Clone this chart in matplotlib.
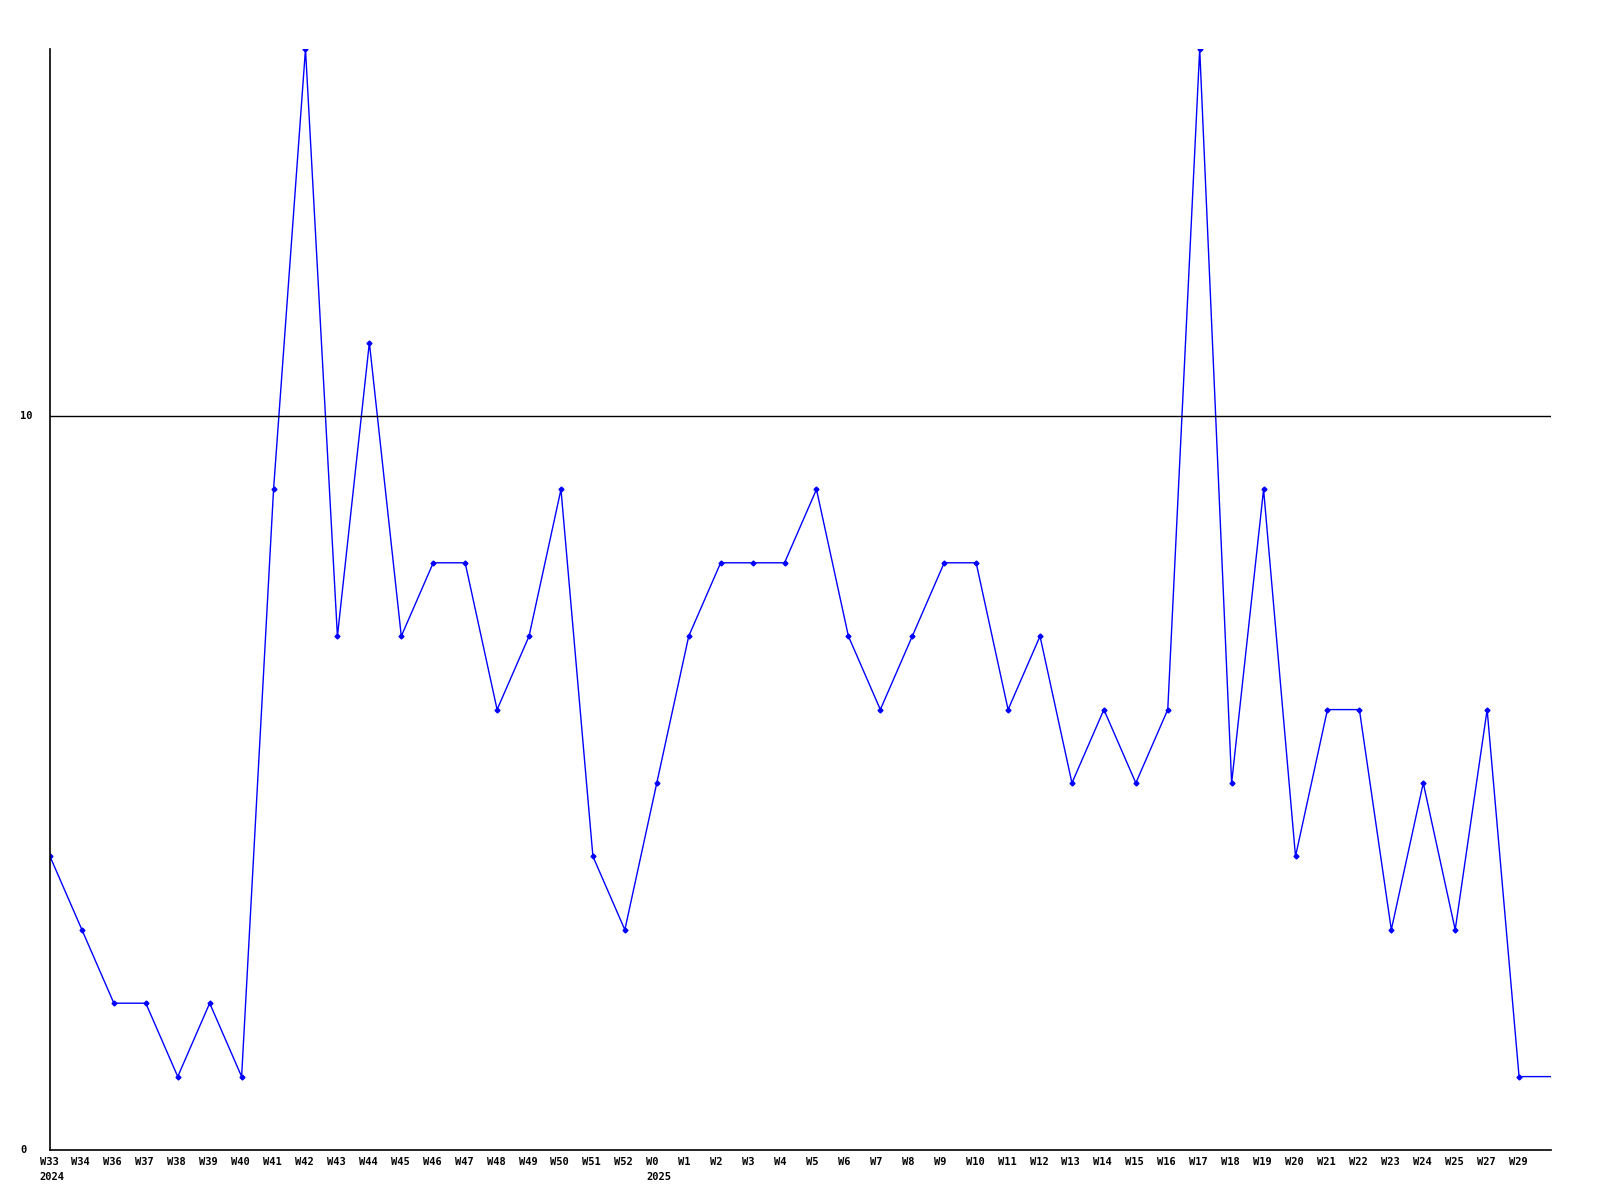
import matplotlib
matplotlib.use("Agg")
import matplotlib.pyplot as plt
import matplotlib.transforms as mtransforms

# Weekly counts
weeks = ["W33", "W34", "W36", "W37", "W38", "W39", "W40", "W41", "W42", "W43",
         "W44", "W45", "W46", "W47", "W48", "W49", "W50", "W51", "W52", "W0",
         "W1", "W2", "W3", "W4", "W5", "W6", "W7", "W8", "W9", "W10",
         "W11", "W12", "W13", "W14", "W15", "W16", "W17", "W18", "W19", "W20",
         "W21", "W22", "W23", "W24", "W25", "W27", "W29"]
counts = [4, 3, 2, 2, 1, 2, 1, 9, 15, 7,
          11, 7, 8, 8, 6, 7, 9, 4, 3, 5,
          7, 8, 8, 8, 9, 7, 6, 7, 8, 8,
          6, 7, 5, 6, 5, 6, 15, 5, 9, 4,
          6, 6, 3, 5, 3, 6, 1]
years = {"W33": "2024", "W0": "2025"}
yticks = [0, 10]

FONT = "DejaVu Sans Mono"

fig = plt.figure(figsize=(16, 12), dpi=100)
ax = fig.add_axes([50/1600, 50/1200, 1501/1600, 1101/1200])

x = list(range(len(counts)))
# line runs on to the right edge at the last value
ax.plot(x + [len(counts)], counts + [counts[-1]], color="#0000ff", lw=1)
ax.plot(x, counts, ls="none", marker="D", ms=2.5, color="#0000ff")

ax.set_xlim(0, len(counts))
ax.set_ylim(0, max(counts))
ax.axhline(10, color="black", lw=1)

for s in ["top", "right"]:
  ax.spines[s].set_visible(False)
for s in ["left", "bottom"]:
  ax.spines[s].set_linewidth(1.2)
ax.set_xticks([])
ax.set_yticks([])

# x labels, left-aligned a little before each point
off = mtransforms.ScaledTranslation(-10.5/100, 0, fig.dpi_scale_trans)
trans = mtransforms.blended_transform_factory(ax.transData, ax.transAxes) + off
for i, w in enumerate(weeks):
  ax.text(i, -12/1101, w, transform=trans, ha="left", va="center",
          fontsize=7.5, fontweight="bold", family=FONT)
  if w in years:
    ax.text(i, -27/1101, years[w], transform=trans, ha="left", va="center",
            fontsize=7.5, fontweight="bold", family=FONT)

# y labels
ytrans = mtransforms.blended_transform_factory(fig.transFigure, ax.transData)
for v in yticks:
  ax.text(20/1600, v, str(v), transform=ytrans, ha="left", va="center",
          fontsize=7.5, fontweight="bold", family=FONT)

fig.savefig("out.png", dpi=100)
